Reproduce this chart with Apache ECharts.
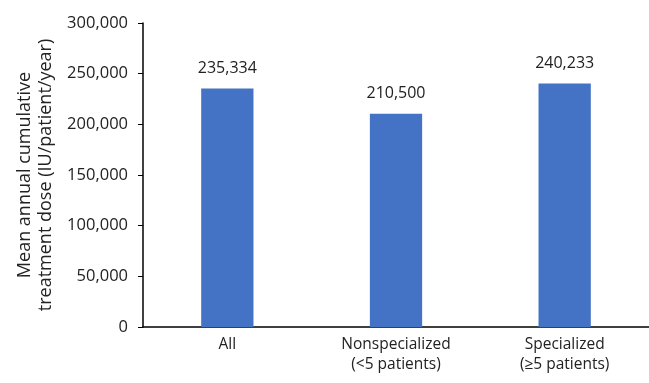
<!DOCTYPE html>
<html>
<head>
<meta charset="utf-8">
<script src="https://cdn.jsdelivr.net/npm/echarts@6/dist/echarts.min.js"></script>
<style>
  html, body { margin: 0; padding: 0; background: #fff; }
  #chart { width: 649px; height: 383px; }
</style>
</head>
<body>
<div id="chart"></div>
<script>
const categories = ["All", "Nonspecialized\n(<5 patients)", "Specialized\n(\u22655 patients)"];
const doseValues = [235334, 210500, 240233];
const yTicks = { min: 0, max: 300000, interval: 50000 };

const chart = echarts.init(document.getElementById("chart"));
const fontFamily = "'Open Sans', 'Noto Sans', sans-serif";
const fmt = (v) => v.toLocaleString("en-US");

chart.setOption({
  animation: false,
  grid: { left: 143, top: 23, width: 510, height: 304 },
  xAxis: {
    type: "category",
    data: categories,
    axisLine: { lineStyle: { color: "#000", width: 1.5 } },
    axisTick: { show: false },
    axisLabel: {
      color: "#222",
      fontSize: 15.5,
      fontFamily: fontFamily,
      lineHeight: 20,
      margin: 8,
      interval: 0
    }
  },
  yAxis: {
    type: "value",
    min: yTicks.min,
    max: yTicks.max,
    interval: yTicks.interval,
    name: "Mean annual cumulative\ntreatment dose (IU/patient/year)",
    nameLocation: "middle",
    nameGap: 84,
    nameTextStyle: { color: "#222", fontSize: 18, fontFamily: fontFamily, lineHeight: 21 },
    axisLine: { show: true, lineStyle: { color: "#000", width: 1.5 } },
    axisTick: { show: true, length: 5, lineStyle: { color: "#000" } },
    splitLine: { show: false },
    axisLabel: {
      color: "#222",
      fontSize: 16.5,
      fontFamily: fontFamily,
      margin: 15,
      formatter: fmt
    }
  },
  series: [{
    type: "bar",
    data: doseValues,
    barWidth: "31%",
    itemStyle: { color: "#4472C4" },
    label: {
      show: true,
      position: "top",
      distance: 12,
      color: "#222",
      fontSize: 16,
      fontFamily: fontFamily,
      formatter: (p) => fmt(p.value)
    }
  }]
});
</script>
</body>
</html>
